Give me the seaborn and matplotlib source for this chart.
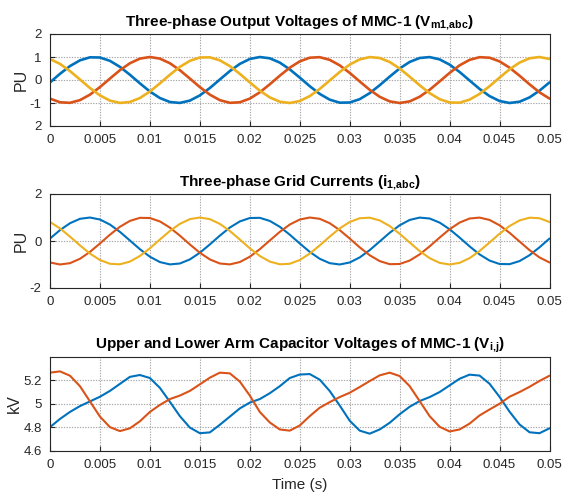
import numpy as np
import pandas as pd
import matplotlib
matplotlib.use("Agg")
import matplotlib.pyplot as plt
import seaborn as sns

# ---------------- data ----------------
time_ms = [0, 1, 2, 3, 4, 5, 6, 7, 8, 9, 10, 11, 12, 13, 14, 15, 16, 17, 18, 19,
           20, 21, 22, 23, 24, 25, 26, 27, 28, 29, 30, 31, 32, 33, 34, 35, 36, 37,
           38, 39, 40, 41, 42, 43, 44, 45, 46, 47, 48, 49, 50]

# Panel 1: three-phase output voltages of MMC-1 (PU)
v_a = [-0.105, 0.269, 0.605, 0.855, 0.986, 0.978, 0.833, 0.571, 0.228, -0.146,
       -0.5, -0.784, -0.957, -0.996, -0.896, -0.669, -0.349, 0.021, 0.388, 0.700,
       0.914, 0.999, 0.944, 0.757, 0.463, 0.105, -0.269, -0.605, -0.855, -0.986,
       -0.978, -0.833, -0.571, -0.228, 0.146, 0.5, 0.784, 0.957, 0.996, 0.896,
       0.669, 0.349, -0.021, -0.388, -0.700, -0.914, -0.999, -0.944, -0.757, -0.463,
       -0.105]
v_b = [-0.809, -0.969, -0.992, -0.876, -0.637, -0.309, 0.063, 0.426, 0.729, 0.930,
       1.0, 0.930, 0.729, 0.426, 0.063, -0.309, -0.637, -0.876, -0.992, -0.969,
       -0.809, -0.536, -0.187, 0.187, 0.536, 0.809, 0.969, 0.992, 0.876, 0.637,
       0.309, -0.063, -0.426, -0.729, -0.930, -1.0, -0.930, -0.729, -0.426, -0.063,
       0.309, 0.637, 0.876, 0.992, 0.969, 0.809, 0.536, 0.187, -0.187, -0.536,
       -0.809]
v_c = [0.914, 0.700, 0.388, 0.021, -0.349, -0.669, -0.896, -0.996, -0.957, -0.784,
       -0.5, -0.146, 0.228, 0.571, 0.833, 0.978, 0.986, 0.855, 0.605, 0.269,
       -0.105, -0.463, -0.757, -0.944, -0.999, -0.914, -0.700, -0.388, -0.021, 0.349,
       0.669, 0.896, 0.996, 0.957, 0.784, 0.5, 0.146, -0.228, -0.571, -0.833,
       -0.978, -0.986, -0.855, -0.605, -0.269, 0.105, 0.463, 0.757, 0.944, 0.999,
       0.914]

# Panel 2: three-phase grid currents (PU)
i_a = [0.105, 0.463, 0.757, 0.944, 0.999, 0.914, 0.700, 0.388, 0.021, -0.349,
       -0.669, -0.896, -0.996, -0.957, -0.784, -0.5, -0.146, 0.228, 0.571, 0.833,
       0.978, 0.986, 0.855, 0.605, 0.269, -0.105, -0.463, -0.757, -0.944, -0.999,
       -0.914, -0.700, -0.388, -0.021, 0.349, 0.669, 0.896, 0.996, 0.957, 0.784,
       0.5, 0.146, -0.228, -0.571, -0.833, -0.978, -0.986, -0.855, -0.605, -0.269,
       0.105]
i_b = [-0.914, -0.999, -0.944, -0.757, -0.463, -0.105, 0.269, 0.605, 0.855, 0.986,
       0.978, 0.833, 0.571, 0.228, -0.146, -0.5, -0.784, -0.957, -0.996, -0.896,
       -0.669, -0.349, 0.021, 0.388, 0.700, 0.914, 0.999, 0.944, 0.757, 0.463,
       0.105, -0.269, -0.605, -0.855, -0.986, -0.978, -0.833, -0.571, -0.228, 0.146,
       0.5, 0.784, 0.957, 0.996, 0.896, 0.669, 0.349, -0.021, -0.388, -0.700,
       -0.914]
i_c = [0.809, 0.536, 0.187, -0.187, -0.536, -0.809, -0.969, -0.992, -0.876, -0.637,
       -0.309, 0.063, 0.426, 0.729, 0.930, 1.0, 0.930, 0.729, 0.426, 0.063,
       -0.309, -0.637, -0.876, -0.992, -0.969, -0.809, -0.536, -0.187, 0.187, 0.536,
       0.809, 0.969, 0.992, 0.876, 0.637, 0.309, -0.063, -0.426, -0.729, -0.930,
       -1.0, -0.930, -0.729, -0.426, -0.063, 0.309, 0.637, 0.876, 0.992, 0.969,
       0.809]

# Panel 3: upper / lower arm capacitor voltages (kV)
vc_upper = [4.80, 4.87, 4.93, 4.98, 5.02, 5.06, 5.11, 5.17, 5.23, 5.246,
            5.22, 5.136, 5.017, 4.894, 4.796, 4.748, 4.755, 4.82, 4.89, 4.96,
            5.01, 5.04, 5.09, 5.15, 5.22, 5.25, 5.254, 5.206, 5.109, 4.985,
            4.855, 4.77, 4.744, 4.78, 4.837, 4.91, 4.974, 5.023, 5.057, 5.10,
            5.157, 5.214, 5.249, 5.241, 5.171, 5.059, 4.932, 4.823, 4.756, 4.748,
            4.79]
vc_lower = [5.266, 5.277, 5.24, 5.15, 5.02, 4.89, 4.80, 4.766, 4.79, 4.85,
            4.93, 4.99, 5.04, 5.07, 5.11, 5.166, 5.223, 5.266, 5.26, 5.19,
            5.07, 4.93, 4.84, 4.78, 4.77, 4.814, 4.894, 4.966, 5.014, 5.057,
            5.094, 5.143, 5.194, 5.243, 5.266, 5.237, 5.151, 5.023, 4.894, 4.803,
            4.763, 4.78, 4.83, 4.90, 4.951, 5.00, 5.06, 5.10, 5.145, 5.195,
            5.24]

titles = [r"Three-phase Output Voltages of MMC-1 (V$_{\mathbf{m1{,}abc}}$)",
          r"Three-phase Grid Currents (i$_{\mathbf{1{,}abc}}$)",
          r"Upper and Lower Arm Capacitor Voltages of MMC-1 (V$_{\mathbf{i{,}j}}$)"]
y_labels = ["PU", "PU", "kV"]
x_label = "Time (s)"
x_ticks = [0, 0.005, 0.01, 0.015, 0.02, 0.025, 0.03, 0.035, 0.04, 0.045, 0.05]
x_tick_labels = ["0", "0.005", "0.01", "0.015", "0.02", "0.025", "0.03",
                 "0.035", "0.04", "0.045", "0.05"]
v_yticks = [-2, -1, 0, 1, 2]
v_ytick_labels = ["2", "-1", "0", "1", "2"]
i_yticks = [-2, 0, 2]
i_ytick_labels = ["-2", "0", "2"]
cap_yticks = [4.6, 4.8, 5.0, 5.2]
cap_ytick_labels = ["4.6", "4.8", "5", "5.2"]

colors = ["#0072BD", "#D95319", "#EDB120"]

# ---------------- style ----------------
sns.set_theme(style="white")
plt.rcParams["font.family"] = ["Liberation Sans", "DejaVu Sans"]
plt.rcParams["mathtext.fontset"] = "custom"
plt.rcParams["mathtext.rm"] = "Liberation Sans"
plt.rcParams["mathtext.bf"] = "Liberation Sans:bold"
plt.rcParams["axes.unicode_minus"] = False

t_s = np.array(time_ms) / 1000.0


def long_frame(series):
    parts = []
    for name, vals in series:
        parts.append(pd.DataFrame({"t": t_s, "y": vals, "s": name}))
    return pd.concat(parts, ignore_index=True)


fig = plt.figure(figsize=(5.62, 4.97), dpi=100)
W, H = 562.0, 497.0
left_px, right_px = 50.0, 549.5
boxes = [(34.0, 126.0), (194.0, 288.0), (357.0, 450.5)]
axes = []
for top, bot in boxes:
    ax = fig.add_axes([left_px / W, 1 - bot / H, (right_px - left_px) / W, (bot - top) / H])
    axes.append(ax)

frames = [
    long_frame([("a", v_a), ("b", v_b), ("c", v_c)]),
    long_frame([("a", i_a), ("b", i_b), ("c", i_c)]),
    long_frame([("upper", vc_upper), ("lower", vc_lower)]),
]
lws = [1.9, 1.5, 1.5]
yspecs = [((-2, 2), v_yticks, v_ytick_labels),
          ((-2, 2), i_yticks, i_ytick_labels),
          ((4.6, 5.4), cap_yticks, cap_ytick_labels)]

for k, ax in enumerate(axes):
    df = frames[k]
    n = df["s"].nunique()
    sns.lineplot(data=df, x="t", y="y", hue="s", palette=colors[:n], ax=ax,
                 legend=False, linewidth=lws[k], estimator=None, sort=False)
    ylim, yt, ytl = yspecs[k]
    ax.set_xlim(0, 0.05)
    ax.set_ylim(*ylim)
    ax.set_xticks(x_ticks)
    ax.set_xticklabels(x_tick_labels)
    ax.set_yticks(yt)
    ax.set_yticklabels(ytl)
    ax.grid(True, linestyle=(0, (1.2, 1.2)), color="#a8a8a8", linewidth=0.8)
    ax.set_axisbelow(True)
    for sp in ax.spines.values():
        sp.set_visible(True)
        sp.set_color("#262626")
        sp.set_linewidth(0.8)
    ax.tick_params(direction="in", length=3.5, width=0.8, colors="#262626",
                   labelsize=9.5, pad=6, bottom=True, left=True)
    ax.set_ylabel(y_labels[k], fontsize=11.5, color="#262626", labelpad=1)
    ax.set_xlabel("")
    ax.set_title(titles[k], fontsize=11, fontweight="bold", color="black", pad=6)

axes[2].set_xlabel(x_label, fontsize=11, color="#262626", labelpad=5)

fig.savefig("out.png", dpi=100)
